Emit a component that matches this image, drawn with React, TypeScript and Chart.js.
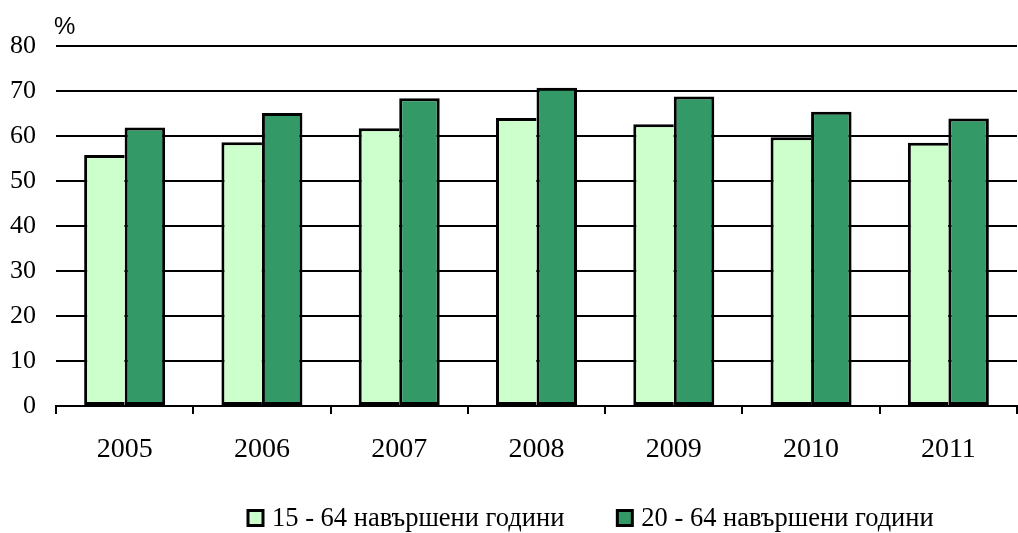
import React, { useEffect, useRef } from "react";
import { Chart, registerables } from "chart.js";

Chart.register(...registerables);

const years = ["2005", "2006", "2007", "2008", "2009", "2010", "2011"];
const rate15to64 = [55.8, 58.6, 61.7, 64.0, 62.6, 59.7, 58.5];
const rate20to64 = [61.9, 65.1, 68.4, 70.7, 68.8, 65.4, 63.9];
const seriesLabels = ["15 - 64 навършени години", "20 - 64 навършени години"];
const unitLabel = "%";

const SERIF = "'Liberation Serif', 'Times New Roman', serif";
const SANS = "'Liberation Sans', Arial, sans-serif";

const extras = {
  id: "extras",
  afterDraw(chart: any) {
    const ctx = chart.ctx;
    const area = chart.chartArea;
    ctx.save();
    // unit label
    ctx.fillStyle = "#000";
    ctx.font = `24px ${SANS}`;
    ctx.textBaseline = "alphabetic";
    ctx.textAlign = "left";
    ctx.fillText(unitLabel, area.left - 2, 34);
    // legend
    ctx.font = `26.5px ${SERIF}`;
    const box = 15;
    const gapText = 9;
    const gapItem = 53;
    let x = 248;
    const yc = 518;
    chart.data.datasets.forEach((ds: any) => {
      ctx.fillStyle = ds.backgroundColor;
      ctx.fillRect(x, yc - box / 2, box, box);
      ctx.strokeStyle = "#000";
      ctx.lineWidth = 3;
      ctx.strokeRect(x, yc - box / 2, box, box);
      ctx.fillStyle = "#000";
      ctx.textBaseline = "middle";
      ctx.fillText(ds.label, x + box + gapText, yc + 1);
      x += box + gapText + ctx.measureText(ds.label).width + gapItem;
    });
    ctx.restore();
  },
};

export default function App() {
  const ref = useRef<HTMLCanvasElement>(null);
  useEffect(() => {
    document.body.style.margin = "0";
    const chart = new Chart(ref.current!, {
      type: "bar",
      data: {
        labels: years,
        datasets: [
          {
            label: seriesLabels[0],
            data: rate15to64,
            backgroundColor: "#CCFFCC",
            borderColor: "#000",
            borderWidth: { top: 3, left: 3, bottom: 3, right: 0 },
            borderSkipped: false,
          },
          {
            label: seriesLabels[1],
            data: rate20to64,
            backgroundColor: "#339966",
            borderColor: "#000",
            borderWidth: 3,
            borderSkipped: false,
          },
        ],
      },
      options: {
        animation: false,
        responsive: false,
        devicePixelRatio: 1,
        layout: { padding: { top: 46, right: 1, left: 0, bottom: 67 } },
        datasets: { bar: { categoryPercentage: 0.59, barPercentage: 1 } },
        plugins: { legend: { display: false }, tooltip: { enabled: false } },
        scales: {
          x: {
            afterFit: (s: any) => {
              s.height = 60;
            },
            grid: {
              offset: true,
              drawOnChartArea: false,
              drawTicks: true,
              tickLength: 8,
              color: "#000",
              lineWidth: 2,
            },
            border: { display: true, color: "#000", width: 2 },
            ticks: { color: "#000", font: { family: SERIF, size: 28 }, padding: 19 },
          },
          y: {
            min: 0,
            max: 80,
            afterFit: (s: any) => {
              s.width = 56;
            },
            grid: { color: "#000", lineWidth: 2, drawTicks: false },
            border: { display: false },
            ticks: { stepSize: 10, color: "#000", font: { family: SERIF, size: 26 }, padding: 20 },
          },
        },
      },
      plugins: [extras],
    });
    return () => chart.destroy();
  }, []);
  return (
    <div style={{ width: 1018, height: 533 }}>
      <canvas ref={ref} width={1018} height={533} />
    </div>
  );
}
